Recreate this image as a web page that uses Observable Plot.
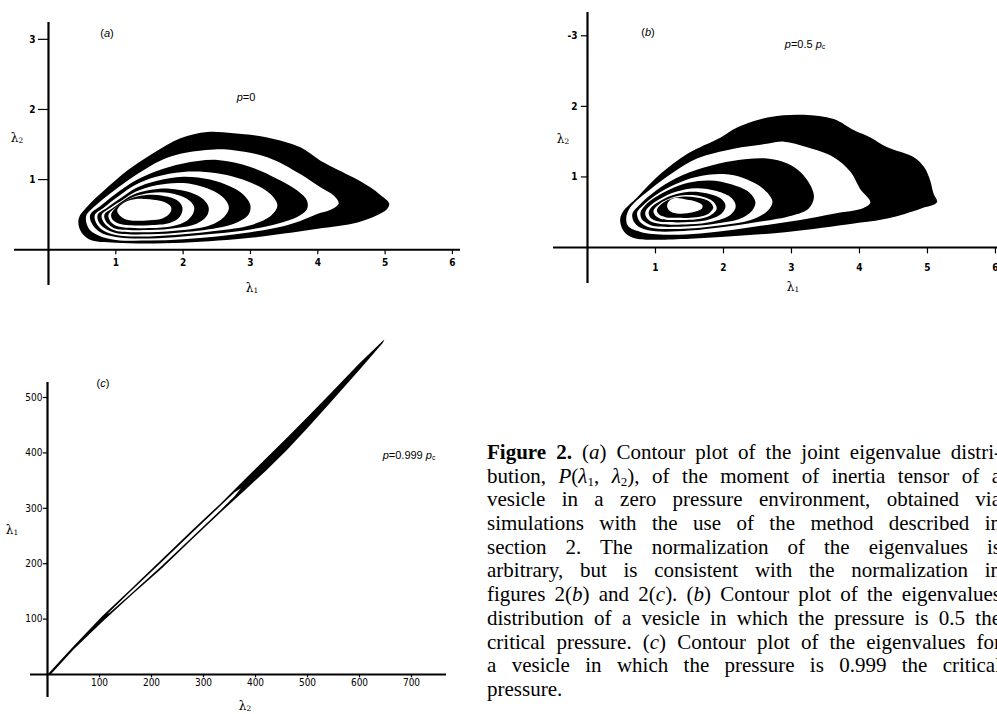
<!DOCTYPE html>
<html><head><meta charset="utf-8">
<script src="https://cdn.jsdelivr.net/npm/d3@7"></script>
<script src="https://cdn.jsdelivr.net/npm/@observablehq/plot@0.6"></script>
<style>
body{margin:0;background:#fff;}
#page{position:relative;width:997px;height:714px;overflow:hidden;background:#fff;font-family:"Liberation Sans",Arial,sans-serif;color:#000;}
.pnl{position:absolute;}
.lab{position:absolute;transform:translate(-50%,-50%);white-space:nowrap;font-size:11px;line-height:1;}
.ax{font-family:"DejaVu Serif",serif;font-size:12px;}
.cap{position:absolute;left:487px;top:441px;width:514px;font-family:"Liberation Serif","Times New Roman",serif;font-size:21px;line-height:23.7px;}
.cap div{text-align:justify;text-align-last:justify;white-space:nowrap;height:23.7px;}
.cap div.last{text-align-last:left;text-align:left;}
sub{font-size:62%;line-height:0;vertical-align:-0.2em;}
</style></head>
<body>
<div id="page">
  <div id="pa" class="pnl" style="left:0;top:0"></div>
  <div id="pb" class="pnl" style="left:520px;top:0"></div>
  <div id="pc" class="pnl" style="left:0;top:320px"></div>

  <span class="lab" style="left:107px;top:33px">(<i>a</i>)</span>
  <span class="lab" style="left:246px;top:97px"><i>p</i>=0</span>
  <span class="lab ax" style="left:17px;top:138px">λ<sub>2</sub></span>
  <span class="lab ax" style="left:252px;top:288px">λ<sub>1</sub></span>

  <span class="lab" style="left:648px;top:32px">(<i>b</i>)</span>
  <span class="lab" style="left:805px;top:44px"><i>p</i>=0.5 <i>p</i><sub>c</sub></span>
  <span class="lab ax" style="left:563px;top:139px">λ<sub>2</sub></span>
  <span class="lab ax" style="left:793px;top:287px">λ<sub>1</sub></span>

  <span class="lab" style="left:103px;top:383px">(<i>c</i>)</span>
  <span class="lab" style="left:409px;top:455px"><i>p</i>=0.999 <i>p</i><sub>c</sub></span>
  <span class="lab ax" style="left:12px;top:530px">λ<sub>1</sub></span>
  <span class="lab ax" style="left:245px;top:706px">λ<sub>2</sub></span>

  <div class="cap">
    <div><b>Figure 2.</b> (<i>a</i>) Contour plot of the joint eigenvalue distri-</div>
    <div>bution, <i>P</i>(<i>λ</i><sub>1</sub>,&nbsp;<i>λ</i><sub>2</sub>), of the moment of inertia tensor of a</div>
    <div>vesicle in a zero pressure environment, obtained via</div>
    <div>simulations with the use of the method described in</div>
    <div>section 2. The normalization of the eigenvalues is</div>
    <div>arbitrary, but is consistent with the normalization in</div>
    <div>figures 2(<i>b</i>) and 2(<i>c</i>). (<i>b</i>) Contour plot of the eigenvalues</div>
    <div>distribution of a vesicle in which the pressure is 0.5 the</div>
    <div>critical pressure. (<i>c</i>) Contour plot of the eigenvalues for</div>
    <div>a vesicle in which the pressure is 0.999 the critical</div>
    <div class="last">pressure.</div>
  </div>
</div>
<script>
// ---------- tick values ----------
const aTicksX = [1, 2, 3, 4, 5, 6];
const aTicksY = [1, 2, 3];
const aTickLabelsY = ["1", "2", "3"];
const bTicksX = [1, 2, 3, 4, 5, 6];
const bTicksY = [1, 2, 3];
const bTickLabelsY = ["1", "2", "-3"];
const cTicksX = [100, 200, 300, 400, 500, 600, 700];
const cTicksY = [100, 200, 300, 400, 500];

// ---------- panel (a): contour boundaries [λ1, λ2], outermost first ----------
const aBlack1 = [[0.45,0.45],[0.47,0.28],[0.6,0.15],[1.0,0.10],[2.0,0.10],[3.0,0.17],[3.5,0.23],[4.0,0.30],[4.59,0.39],[4.88,0.49],[5.03,0.58],[5.06,0.66],[4.93,0.78],[4.78,0.89],[4.53,1.03],[4.04,1.27],[3.74,1.46],[3.25,1.60],[2.75,1.66],[2.36,1.68],[1.96,1.59],[1.56,1.38],[1.17,1.13],[0.82,0.84],[0.58,0.62]];
const aWhite1 = [[0.56,0.48],[0.6,0.3],[0.75,0.2],[1.0,0.14],[1.5,0.13],[2.0,0.15],[2.5,0.19],[3.0,0.25],[3.5,0.34],[3.74,0.41],[3.99,0.51],[4.19,0.57],[4.31,0.66],[4.24,0.77],[4.04,0.89],[3.74,1.08],[3.25,1.32],[2.75,1.42],[2.46,1.43],[1.96,1.37],[1.66,1.27],[1.32,1.08],[0.97,0.84],[0.7,0.63]];
const aBlack2 = [[0.62,0.5],[0.64,0.38],[0.75,0.26],[1.0,0.18],[1.5,0.16],[2.0,0.19],[2.5,0.23],[3.0,0.29],[3.4,0.37],[3.70,0.47],[3.84,0.58],[3.84,0.70],[3.70,0.84],[3.40,1.01],[3.0,1.18],[2.51,1.28],[2.0,1.23],[1.6,1.12],[1.3,0.99],[1.0,0.80],[0.78,0.63]];
const aWhite2 = [[0.69,0.5],[0.7,0.4],[0.79,0.29],[1.0,0.21],[1.5,0.19],[2.0,0.22],[2.5,0.27],[3.0,0.35],[3.3,0.48],[3.40,0.63],[3.3,0.79],[3.0,0.96],[2.5,1.09],[2.0,1.11],[1.6,1.04],[1.3,0.93],[1.05,0.77],[0.82,0.6]];
const aBlack3 = [[0.73,0.5],[0.75,0.39],[0.83,0.31],[1.0,0.24],[1.5,0.22],[2.0,0.25],[2.5,0.31],[2.8,0.39],[2.97,0.5],[3.0,0.63],[2.9,0.78],[2.7,0.9],[2.4,1.0],[2.0,1.04],[1.6,0.98],[1.3,0.88],[1.08,0.74],[0.87,0.6]];
const aWhite3 = [[0.79,0.5],[0.81,0.41],[0.88,0.33],[1.0,0.27],[1.5,0.25],[2.0,0.28],[2.4,0.35],[2.6,0.46],[2.68,0.6],[2.6,0.74],[2.4,0.86],[2.0,0.95],[1.6,0.92],[1.3,0.83],[1.1,0.71],[0.92,0.6]];
const aBlack4 = [[0.83,0.5],[0.85,0.41],[0.92,0.34],[1.0,0.30],[1.5,0.28],[1.9,0.31],[2.2,0.37],[2.35,0.48],[2.38,0.6],[2.3,0.72],[2.1,0.82],[1.8,0.87],[1.5,0.85],[1.25,0.78],[1.08,0.68],[0.95,0.59]];
const aWhite4 = [[0.89,0.5],[0.91,0.42],[0.97,0.36],[1.1,0.32],[1.5,0.31],[1.85,0.34],[2.05,0.41],[2.15,0.52],[2.16,0.62],[2.05,0.73],[1.8,0.81],[1.5,0.81],[1.25,0.75],[1.08,0.66],[0.97,0.58]];
const aBlack5 = [[0.93,0.5],[0.96,0.42],[1.05,0.37],[1.2,0.35],[1.5,0.35],[1.8,0.38],[1.95,0.47],[1.99,0.6],[1.92,0.7],[1.7,0.77],[1.45,0.78],[1.22,0.73],[1.05,0.64]];
const aWhite5 = [[1.02,0.56],[1.08,0.47],[1.2,0.42],[1.5,0.42],[1.7,0.45],[1.81,0.53],[1.82,0.61],[1.72,0.68],[1.5,0.72],[1.28,0.72],[1.12,0.67]];

// ---------- panel (b) ----------
const bBlack1 = [[0.48,0.40],[0.52,0.25],[0.6,0.17],[0.75,0.12],[1.0,0.11],[1.96,0.15],[2.94,0.22],[3.92,0.34],[4.41,0.41],[4.9,0.55],[5.14,0.64],[5.09,0.76],[5.04,0.95],[4.95,1.14],[4.80,1.28],[4.41,1.42],[4.16,1.56],[3.92,1.66],[3.62,1.82],[3.18,1.88],[2.69,1.85],[2.2,1.70],[1.96,1.56],[1.47,1.33],[1.07,1.04],[0.73,0.71],[0.53,0.52]];
const bWhite1 = [[0.57,0.42],[0.6,0.3],[0.78,0.22],[1.17,0.18],[1.66,0.2],[2.15,0.25],[2.64,0.32],[3.13,0.39],[3.62,0.48],[4.06,0.56],[4.16,0.64],[4.01,0.83],[3.87,1.07],[3.62,1.28],[3.23,1.42],[2.89,1.50],[2.64,1.47],[2.15,1.40],[1.61,1.26],[1.27,1.07],[0.93,0.83],[0.63,0.57]];
const bBlack2 = [[0.66,0.48],[0.68,0.37],[0.78,0.28],[1.0,0.23],[1.5,0.24],[2.0,0.29],[2.5,0.36],[3.0,0.45],[3.25,0.55],[3.33,0.71],[3.28,0.88],[3.13,1.07],[2.94,1.19],[2.64,1.26],[2.15,1.23],[1.7,1.13],[1.3,0.98],[1.0,0.8],[0.76,0.6]];
const bWhite2 = [[0.73,0.5],[0.76,0.38],[0.85,0.31],[1.0,0.27],[1.5,0.27],[2.0,0.32],[2.4,0.39],[2.65,0.52],[2.72,0.65],[2.6,0.82],[2.3,0.98],[2.0,1.04],[1.6,1.0],[1.3,0.9],[1.0,0.74],[0.82,0.6]];
const bBlack3 = [[0.78,0.5],[0.8,0.4],[0.9,0.33],[1.0,0.3],[1.5,0.3],[1.9,0.34],[2.25,0.41],[2.42,0.52],[2.47,0.64],[2.38,0.78],[2.1,0.9],[1.8,0.95],[1.5,0.92],[1.2,0.82],[0.98,0.7],[0.85,0.6]];
const bWhite3 = [[0.85,0.5],[0.87,0.42],[0.95,0.36],[1.1,0.33],[1.5,0.33],[1.85,0.37],[2.1,0.46],[2.18,0.58],[2.12,0.7],[1.9,0.8],[1.6,0.84],[1.3,0.79],[1.05,0.68],[0.92,0.59]];
const bBlack4 = [[0.9,0.5],[0.92,0.43],[1.0,0.38],[1.15,0.36],[1.5,0.36],[1.8,0.4],[1.98,0.49],[2.03,0.6],[1.95,0.7],[1.75,0.77],[1.5,0.79],[1.25,0.74],[1.05,0.65],[0.95,0.58]];
const bWhite4 = [[0.97,0.52],[1.0,0.45],[1.1,0.4],[1.3,0.39],[1.6,0.4],[1.8,0.45],[1.9,0.55],[1.85,0.65],[1.65,0.73],[1.4,0.74],[1.2,0.69],[1.05,0.61]];
const bBlack5 = [[1.02,0.53],[1.05,0.47],[1.15,0.43],[1.35,0.42],[1.6,0.43],[1.78,0.48],[1.85,0.57],[1.78,0.66],[1.6,0.71],[1.38,0.72],[1.2,0.68],[1.08,0.61]];
const bWhite5 = [[1.17,0.58],[1.22,0.51],[1.35,0.48],[1.55,0.5],[1.68,0.55],[1.69,0.6],[1.6,0.65],[1.45,0.68],[1.3,0.7],[1.2,0.66]];

// ---------- panel (c): [λ2, λ1] ----------
const cBand = [[0,0],[50,51],[105,105],[160,154],[220,208],[280,262],[332,308],[380,353],[420,390],[460,427],[500,465],[545,508],[600,562],[648,605],[645,599],[600,550],[545,492],[500,445],[460,405],[420,368],[380,333],[332,292],[280,246],[220,192],[160,142],[105,95],[50,45],[6,0]];
const cLoop = [[115,109],[160,150.5],[220,203.5],[280,257.6],[332,304],[360,329],[372,336],[360,322],[332,296],[280,249.6],[220,196.5],[160,145.5],[120,112]];

const aRings = [[aBlack1,"black"],[aWhite1,"white"],[aBlack2,"black"],[aWhite2,"white"],[aBlack3,"black"],[aWhite3,"white"],[aBlack4,"black"],[aWhite4,"white"],[aBlack5,"black"],[aWhite5,"white"]];
const bRings = [[bBlack1,"black"],[bWhite1,"white"],[bBlack2,"black"],[bWhite2,"white"],[bBlack3,"black"],[bWhite3,"white"],[bBlack4,"black"],[bWhite4,"white"],[bBlack5,"black"],[bWhite5,"white"]];
const cRings = [[cBand,"black"],[cLoop,"white"]];

function panel(id, o) {
  const marks = [];
  for (const [pts, col] of o.rings) {
    marks.push(Plot.line(pts, {x: d => d[0], y: d => d[1], fill: col, stroke: "none", curve: o.curve}));
  }
  marks.push(Plot.ruleY([0], {stroke: "black", strokeWidth: 2.2}));
  marks.push(Plot.ruleX([0], {stroke: "black", strokeWidth: 2.2}));
  marks.push(Plot.ruleX(o.xt, {x: d => d, y1: 0, y2: -o.xtLen, stroke: "black", strokeWidth: 1.2}));
  marks.push(Plot.text(o.xt, {x: d => d, y: 0, dy: o.xDy, text: d => String(d), fontSize: o.fs, fontWeight: o.fw, fontFamily: o.ff, fill: "black"}));
  marks.push(Plot.ruleY(o.yt, {y: d => d, x1: -o.ytLen, x2: 0, stroke: "black", strokeWidth: 1.2}));
  marks.push(Plot.text(o.yt, {y: d => d, x: 0, dx: o.yDx, text: (d, i) => o.ytl[i], textAnchor: "end", fontSize: o.fs, fontWeight: o.fw, fontFamily: o.ff, fill: "black"}));
  const svg = Plot.plot({
    width: o.w, height: o.h,
    marginLeft: o.ml, marginRight: o.mr, marginTop: o.mt, marginBottom: o.mb,
    x: {domain: o.xd, axis: null},
    y: {domain: o.yd, axis: null},
    style: {background: "none", overflow: "visible"},
    marks
  });
  document.getElementById(id).appendChild(svg);
}

panel("pa", {
  w: 470, h: 300, ml: 14, mr: 10, mt: 22, mb: 15,
  xd: [-0.505, 6.12], yd: [-0.51, 3.24],
  rings: aRings, curve: "catmull-rom-closed",
  xt: aTicksX, yt: aTicksY, ytl: aTickLabelsY,
  xtLen: 0.07, ytLen: 0.15, xDy: 13, yDx: -13,
  fs: 10, fw: "bold", ff: "'Liberation Sans Narrow','DejaVu Sans Condensed',sans-serif"
});
panel("pb", {
  w: 477, h: 300, ml: 33, mr: 0, mt: 12, mb: 17,
  xd: [-0.5, 6.03], yd: [-0.51, 3.33],
  rings: bRings, curve: "catmull-rom-closed",
  xt: bTicksX, yt: bTicksY, ytl: bTickLabelsY,
  xtLen: 0.09, ytLen: 0.09, xDy: 20, yDx: -10,
  fs: 10, fw: "bold", ff: "'Liberation Sans Narrow','DejaVu Sans Condensed',sans-serif"
});
panel("pc", {
  w: 460, h: 394, ml: 30, mr: 14, mt: 62, mb: 17,
  xd: [-32.7, 767.3], yd: [-41.5, 527.1],
  rings: cRings, curve: "linear-closed",
  xt: cTicksX, yt: cTicksY, ytl: cTicksY.map(String),
  xtLen: 6, ytLen: 8, xDy: 8, yDx: -5,
  fs: 10, fw: "normal", ff: "'Liberation Sans Narrow','DejaVu Sans Condensed',sans-serif"
});
</script>
</body></html>
